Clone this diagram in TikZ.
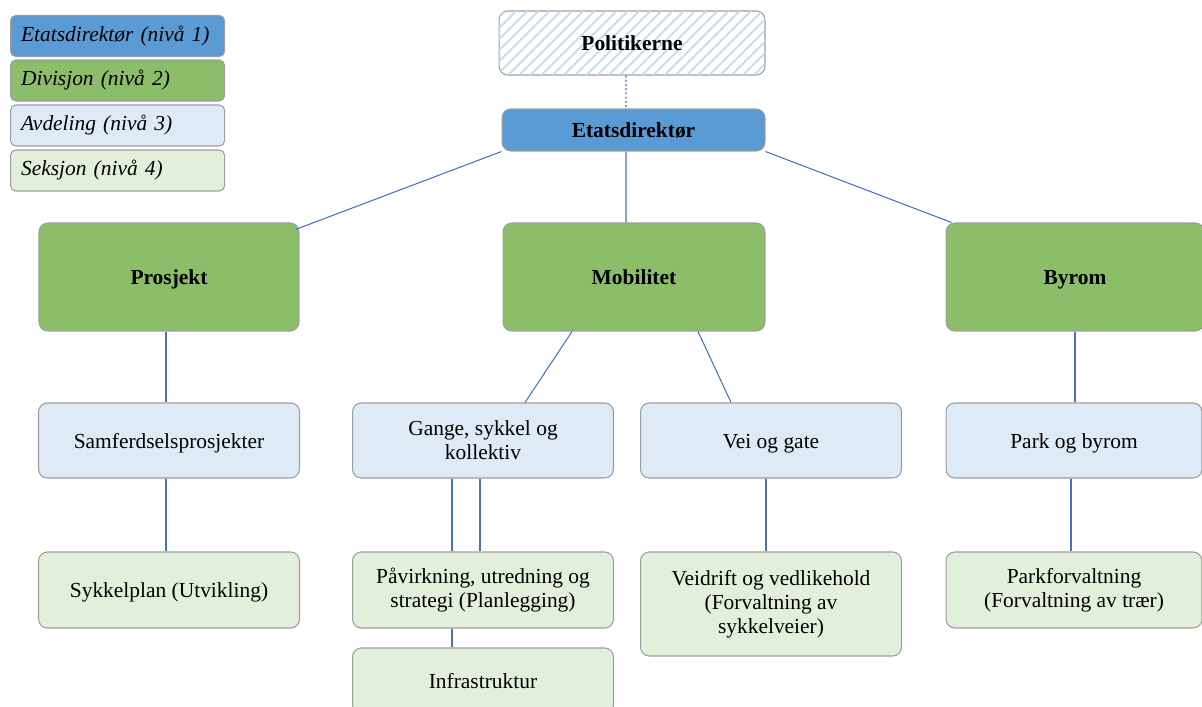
\documentclass[tikz,border=0pt,11pt]{standalone}
\usepackage{fontspec}
\setmainfont{Liberation Serif}
\usetikzlibrary{patterns.meta}
\definecolor{lvlone}{HTML}{5B9BD5}
\definecolor{lvltwo}{HTML}{8CBD69}
\definecolor{lvlthree}{HTML}{DEEAF5}
\definecolor{lvlfour}{HTML}{E2EFDA}
\definecolor{rim}{HTML}{9E9E9E}
\definecolor{wire}{HTML}{4472C4}
\definecolor{hatch}{HTML}{C5D9ED}
\newcommand\chartfont{\fontsize{12.2}{13.6}\selectfont}

\begin{document}
\begin{tikzpicture}[x=0.02cm,y=-0.02cm,font=\chartfont,
 unit/.style={draw=rim,line width=0.6pt,rounded corners=5pt,align=center,minimum width=5.22cm},
 head/.style={unit,font=\chartfont\bfseries,text height=2.1ex,text depth=0.3ex},
 single/.style={text height=2.1ex,text depth=0.3ex},
 key/.style={draw=rim,line width=0.6pt,rounded corners=3pt,anchor=west,minimum width=4.28cm,minimum height=0.82cm,inner xsep=6pt,text width=3.86cm,align=left,font=\chartfont\itshape},
 wire/.style={draw=wire,line width=0.6pt}]
\clip (0,0) rectangle (1202,706);
% legend
\node[key,fill=lvlone] (k1) at (10,36) {Etatsdirektør (nivå 1)};
\node[key,fill=lvltwo] (k2) at (10,80.5) {Divisjon (nivå 2)};
\node[key,fill=lvlthree] (k3) at (10,125.5) {Avdeling (nivå 3)};
\node[key,fill=lvlfour] (k4) at (10,170.5) {Seksjon (nivå 4)};
% top
\node[head,minimum width=5.32cm,minimum height=1.28cm,fill=white,
 postaction={pattern={Lines[angle=45,distance=4.5pt,line width=1pt]},pattern color=hatch}] (pol) at (632,43) {Politikerne};
\node[head,minimum width=5.26cm,minimum height=0.84cm,fill=lvlone] (etat) at (633.5,130) {Etatsdirektør};
% divisjoner
\node[head,minimum width=5.2cm,minimum height=2.16cm,fill=lvltwo] (proj) at (169,277) {Prosjekt};
\node[head,minimum width=5.24cm,minimum height=2.16cm,fill=lvltwo] (mob) at (634,277) {Mobilitet};
\node[head,minimum width=5.16cm,minimum height=2.16cm,fill=lvltwo] (byrom) at (1075,277) {Byrom};
% avdelinger
\node[unit,single,minimum height=1.5cm,fill=lvlthree] (samf) at (169,440.5) {Samferdselsprosjekter};
\node[unit,minimum height=1.5cm,fill=lvlthree] (gange) at (483,440.5) {Gange, sykkel og\\kollektiv};
\node[unit,single,minimum height=1.5cm,fill=lvlthree] (vei) at (771,440.5) {Vei og gate};
\node[unit,single,minimum width=5.12cm,minimum height=1.5cm,fill=lvlthree] (park) at (1074,440.5) {Park og byrom};
% seksjoner
\node[unit,single,minimum height=1.52cm,fill=lvlfour] (sykkel) at (169,590) {Sykkelplan (Utvikling)};
\node[unit,minimum height=1.52cm,fill=lvlfour] (pav) at (483,590) {Påvirkning, utredning og\\strategi (Planlegging)};
\node[unit,minimum height=2.08cm,fill=lvlfour] (veid) at (771,604) {Veidrift og vedlikehold\\(Forvaltning av\\sykkelveier)};
\node[unit,minimum width=5.12cm,minimum height=1.52cm,fill=lvlfour] (parkf) at (1074,590) {Parkforvaltning\\(Forvaltning av trær)};
\node[unit,single,minimum height=1.32cm,fill=lvlfour] (infra) at (483,681) {Infrastruktur};
% lines
\draw[wire,dash pattern=on 1.2pt off 1.2pt] ([xshift=-0.12cm]pol.south) -- ([xshift=-0.15cm]etat.north);
\draw[wire] (etat.south west) -- ([shift={(-4,7)}]proj.north east);
\draw[wire] ([xshift=-0.15cm]etat.south) -- ([xshift=-0.16cm]mob.north);
\draw[wire] (etat.south east) -- ([shift={(6,0)}]byrom.north west);
\draw[wire] ([xshift=-1.24cm]mob.south) -- ([xshift=0.84cm]gange.north);
\draw[wire] ([xshift=1.28cm]mob.south) -- ([xshift=-0.8cm]vei.north);
\foreach \a/\b in {proj/samf,samf/sykkel,park/parkf}{\draw[wire] ([xshift=-0.06cm]\a.south) -- ([xshift=-0.06cm]\b.north);}
\draw[wire] (byrom.south) -- ([xshift=0.02cm]park.north);
\draw[wire] ([xshift=-0.1cm]vei.south) -- ([xshift=-0.1cm]veid.north);
\foreach \s in {-0.62cm,-0.06cm}{\draw[wire] ([xshift=\s]gange.south) -- ([xshift=\s]pav.north);}
\draw[wire] ([xshift=-0.62cm]pav.south) -- ([xshift=-0.62cm]infra.north);
\end{tikzpicture}
\end{document}
